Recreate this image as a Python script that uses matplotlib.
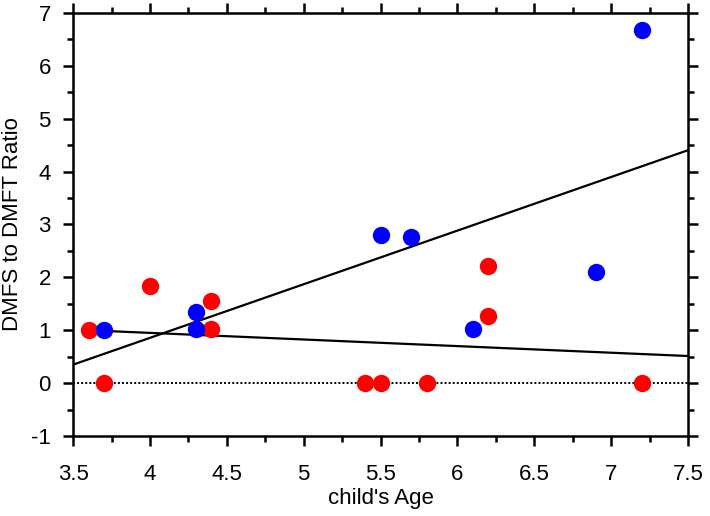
import numpy as np
import matplotlib
matplotlib.use("Agg")
import matplotlib.pyplot as plt
from matplotlib.ticker import MultipleLocator, FuncFormatter

plt.rcParams["font.family"] = ["Liberation Sans", "DejaVu Sans"]

# group 1 (blue)
blue_age = [3.7, 4.3, 4.3, 5.5, 5.7, 6.1, 6.9, 7.2]
blue_ratio = [1.0, 1.34, 1.02, 2.80, 2.76, 1.02, 2.10, 6.67]

# group 2 (red)
red_age = [3.6, 3.7, 4.0, 4.4, 4.4, 5.4, 5.5, 5.8, 6.2, 6.2, 7.2]
red_ratio = [1.0, 0.0, 1.84, 1.56, 1.02, 0.0, 0.0, 0.0, 2.22, 1.26, 0.0]

XLIM = (3.5, 7.5)
YLIM = (-1, 7)

fig = plt.figure(figsize=(7.1, 5.16), dpi=100)
ax = fig.add_axes([0.103, 0.155, 0.866, 0.820])

# linear fits
bx = np.array(blue_age); by = np.array(blue_ratio)
rx = np.array(red_age); ry = np.array(red_ratio)
bk, bb = np.polyfit(bx, by, 1)
rk, rb = np.polyfit(rx, ry, 1)
xs_b = np.array(XLIM)
xs_r = np.array([rx.min(), XLIM[1]])
ax.plot(xs_b, bk * xs_b + bb, color="black", lw=1.6, zorder=2)
ax.plot(xs_r, rk * xs_r + rb, color="black", lw=1.6, zorder=2)

ax.axhline(0, color="black", lw=1.4, linestyle=(0, (1, 1.1)), zorder=1)

ax.plot(red_age, red_ratio, "o", color="#ff0000", ms=12.5, mec="none", zorder=3)
ax.plot(blue_age, blue_ratio, "o", color="#0000ff", ms=12.5, mec="none", zorder=3)

ax.set_xlim(*XLIM)
ax.set_ylim(*YLIM)
ax.xaxis.set_major_locator(MultipleLocator(0.5))
ax.xaxis.set_minor_locator(MultipleLocator(0.25))
ax.yaxis.set_major_locator(MultipleLocator(1))
ax.yaxis.set_minor_locator(MultipleLocator(0.5))
fmt = FuncFormatter(lambda v, p: f"{v:g}")
ax.xaxis.set_major_formatter(fmt)
ax.yaxis.set_major_formatter(fmt)

for s in ax.spines.values():
    s.set_linewidth(1.8)
ax.tick_params(which="both", direction="out", top=True, right=True,
               width=1.8, labelsize=16, labeltop=False, labelright=False)
ax.tick_params(which="major", length=7)
ax.tick_params(which="minor", length=4)
ax.tick_params(axis="x", which="major", pad=13)
ax.tick_params(axis="y", which="major", pad=9)

ax.set_xlabel("child's Age", fontsize=16, labelpad=2)
ax.set_ylabel("DMFS to DMFT Ratio", fontsize=16, labelpad=6)

fig.savefig("out.png", dpi=100)
